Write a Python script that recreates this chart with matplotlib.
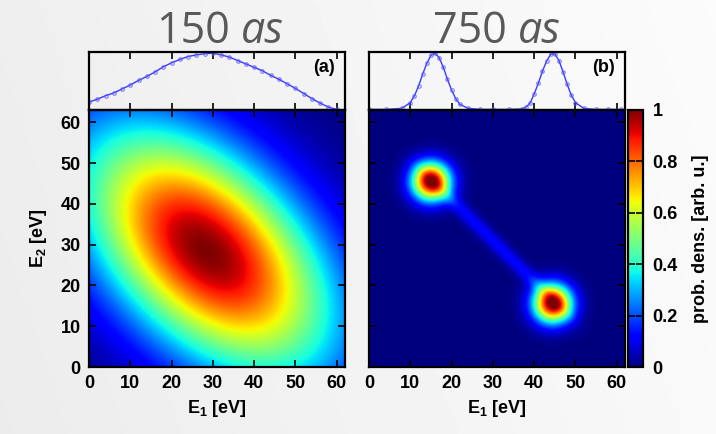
import numpy as np
import matplotlib
matplotlib.use("Agg")
import matplotlib.pyplot as plt

plt.rcParams['font.family'] = ['Liberation Sans', 'DejaVu Sans']
plt.rcParams['font.weight'] = 'bold'
plt.rcParams['axes.labelweight'] = 'bold'
plt.rcParams['mathtext.fontset'] = 'custom'
plt.rcParams['mathtext.rm'] = 'Liberation Sans:bold'
plt.rcParams['mathtext.it'] = 'Liberation Sans:bold'
plt.rcParams['mathtext.bf'] = 'Liberation Sans:bold'

# axis ranges [eV]
e1_max = 62
e2_max = 63
energy_ticks = [0, 10, 20, 30, 40, 50, 60]
cbar_ticks = [0, 0.2, 0.4, 0.6, 0.8, 1]
cbar_ticklabels = ['0', '0.2', '0.4', '0.6', '0.8', '1']

titles = ['150', '750']
panel_tags = ['(a)', '(b)']

# one-electron spectrum, 150 as pulse
spec_a_e = [0, 2, 4, 6, 8, 10, 12, 14, 16, 18, 20, 22, 24, 26, 28, 30,
            32, 34, 36, 38, 40, 42, 44, 46, 48, 50, 52, 54, 56, 58, 60]
spec_a = [0.14, 0.19, 0.25, 0.30, 0.37, 0.44, 0.52, 0.59, 0.67, 0.76, 0.83,
          0.89, 0.94, 0.97, 0.99, 1.00, 0.97, 0.93, 0.87, 0.81, 0.75, 0.69,
          0.61, 0.54, 0.46, 0.38, 0.29, 0.20, 0.12, 0.05, 0.01]

# one-electron spectrum, 750 as pulse
spec_b_e = [0, 4, 8, 10, 11, 12, 13, 14, 15, 16, 17, 18, 19, 20, 21, 22, 24,
            27, 30, 34, 37, 38, 39, 40, 41, 42, 43, 44, 45, 46, 47, 48, 49,
            50, 52, 55, 58, 61]
spec_b = [0.01, 0.01, 0.03, 0.13, 0.25, 0.42, 0.63, 0.82, 0.96, 1.00, 0.92,
          0.75, 0.54, 0.35, 0.20, 0.10, 0.03, 0.01, 0.01, 0.01, 0.02, 0.05,
          0.12, 0.28, 0.47, 0.68, 0.86, 0.98, 0.99, 0.87, 0.67, 0.45, 0.26,
          0.13, 0.03, 0.01, 0.01, 0.01]

# joint energy distribution (a): one broad lobe
lobe_a_sum = 57
lobe_a_sum_width = 21
lobe_a_diff_width = 36

# joint energy distribution (b): two sharp peaks on a faint ridge
peaks_b = [(15.0, 45.5), (44.5, 15.5)]
peak_b_sum_width = 4.6
peak_b_diff_width = 4.6
ridge_b_sum = 61
ridge_b_width = 1.8
ridge_b_level = 0.12
ridge_b_length = 36

e1 = np.linspace(0, e1_max, 400)
e2 = np.linspace(0, e2_max, 400)
E1, E2 = np.meshgrid(e1, e2)

dens_a = (np.exp(-(E1 + E2 - lobe_a_sum) ** 2 / (2 * lobe_a_sum_width ** 2))
          * np.exp(-(E1 - E2) ** 2 / (2 * lobe_a_diff_width ** 2)))

dens_b = np.zeros_like(E1)
for p1, p2 in peaks_b:
    u = (E1 - p1) + (E2 - p2)
    v = (E1 - p1) - (E2 - p2)
    dens_b += np.exp(-u ** 2 / (2 * peak_b_sum_width ** 2) - v ** 2 / (2 * peak_b_diff_width ** 2))
dens_b += (ridge_b_level * np.exp(-(E1 + E2 - ridge_b_sum) ** 2 / (2 * ridge_b_width ** 2))
           * np.exp(-((E1 - E2) / ridge_b_length) ** 6))
dens_b = np.clip(dens_b, 0, 1)

W, H = 716, 434
fig = plt.figure(figsize=(W / 100, H / 100), dpi=100)

# slide background
bg = fig.add_axes([0, 0, 1, 1], zorder=-10)
gx = np.linspace(0, 1, 200)
gy = np.linspace(0, 1, 120)
GX, GY = np.meshgrid(gx, gy)
bg.imshow(0.925 + 0.05 * GX + 0.01 * GY, cmap='gray', vmin=0, vmax=1,
          aspect='auto', origin='lower', extent=[0, 1, 0, 1])
bg.axis('off')

def px(x0, y0, x1, y1):
    return [x0 / W, 1 - y1 / H, (x1 - x0) / W, (y1 - y0) / H]

map_boxes = [px(89, 110, 345, 367), px(369, 110, 625, 367)]
top_boxes = [px(89, 52, 345, 110), px(369, 52, 625, 110)]
title_right = [230, 507]
specs = [(spec_a_e, spec_a), (spec_b_e, spec_b)]
maps = [dens_a, dens_b]

for i in range(2):
    ax = fig.add_axes(map_boxes[i])
    im = ax.imshow(maps[i], origin='lower', extent=[0, e1_max, 0, e2_max],
                   aspect='auto', cmap='jet', vmin=0, vmax=1, interpolation='bilinear')
    ax.set_xticks(energy_ticks)
    ax.set_yticks(energy_ticks)
    ax.tick_params(direction='in', top=True, right=True, length=5, width=1.2,
                   labelsize=13, pad=6)
    for lab in ax.get_xticklabels() + ax.get_yticklabels():
        lab.set_fontweight('bold')
    for s in ax.spines.values():
        s.set_linewidth(1.6)
    ax.set_xlabel('E$_1$ [eV]', fontsize=13, fontweight='bold', labelpad=4)
    if i == 0:
        ax.set_ylabel('E$_2$ [eV]', fontsize=13, fontweight='bold', labelpad=8)
    else:
        ax.set_yticklabels([])

    tx = fig.add_axes(top_boxes[i], facecolor='none')
    tx.plot(specs[i][0], specs[i][1], '-', color='#3a3aff', lw=1.0)
    tx.plot(specs[i][0], specs[i][1], 'o', ms=2.5, mfc='none', mec='#5a5aff',
            mew=0.8, alpha=0.8)
    tx.set_xlim(0, e1_max)
    tx.set_ylim(0, 1.02)
    tx.set_xticks(energy_ticks)
    tx.set_yticks([])
    tx.tick_params(direction='in', top=True, bottom=True, length=5, width=1.2,
                   labelbottom=False)
    for s in tx.spines.values():
        s.set_linewidth(1.6)
    tx.text(0.96, 0.74, panel_tags[i], transform=tx.transAxes, ha='right',
            va='center', fontsize=13, fontweight='bold')

    fig.text(title_right[i] / W, 1 - 43 / H, titles[i], ha='right', va='baseline',
             fontsize=31, color='#595959', family='Open Sans', weight='normal')
    fig.text((title_right[i] + 11) / W, 1 - 43 / H, 'as', ha='left', va='baseline',
             fontsize=31, color='#595959', family='Open Sans', weight='normal',
             style='italic')

cax = fig.add_axes(px(628, 110, 643, 367))
cb = fig.colorbar(im, cax=cax, ticks=cbar_ticks)
cb.set_ticklabels(cbar_ticklabels)
cb.outline.set_linewidth(1.6)
cax.tick_params(direction='in', left=True, right=True, length=5, width=1.2,
                labelsize=13, pad=7)
for lab in cax.get_yticklabels():
    lab.set_fontweight('bold')
cb.set_label('prob. dens. [arb. u.]', fontsize=13, fontweight='bold', labelpad=10)

fig.savefig('out.png', dpi=100)
